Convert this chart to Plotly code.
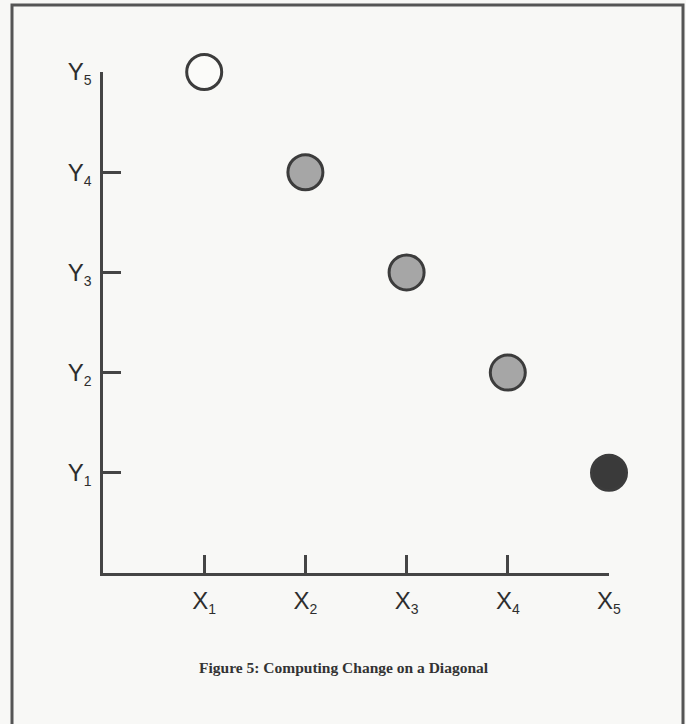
import plotly.graph_objects as go

# Data
x_positions = [1, 2, 3, 4, 5]
y_positions = [5, 4, 3, 2, 1]
point_fills = ["#fbfbf9", "#a6a6a6", "#a6a6a6", "#a6a6a6", "#3a3a3a"]
x_tick_vals = [1, 2, 3, 4, 5]
x_tick_subs = ["1", "2", "3", "4", "5"]
y_tick_vals = [1, 2, 3, 4, 5]
y_tick_subs = ["1", "2", "3", "4", "5"]
caption = "Figure 5: Computing Change on a Diagonal"

def sub_label(letter, s):
    return f"{letter}<sub><span style='font-size:14px'>{s}</span></sub>"

x_tick_text = [sub_label("X", s) for s in x_tick_subs]
y_tick_text = [sub_label("Y", s) for s in y_tick_subs]

W, H = 686, 724
L, R, T, B = 103, 77, 72, 151
pw, ph = W - L - R, H - T - B

def px_to_paper_x(px):
    return (px - L) / pw

def px_to_paper_y(py):
    return (H - B - py) / ph

axis_color = "#454545"
bg = "#f8f8f6"

fig = go.Figure()
fig.add_trace(go.Scatter(
    x=x_positions, y=y_positions, mode="markers",
    marker=dict(size=35, color=point_fills, line=dict(color="#3c3c3c", width=3)),
    showlegend=False, hoverinfo="skip", cliponaxis=False,
))

axis_common = dict(
    showgrid=False, zeroline=False, showline=True, linecolor=axis_color, linewidth=2.5,
    ticks="inside", ticklen=18, tickwidth=2.5, tickcolor=axis_color,
    tickfont=dict(family="Liberation Sans, Arial, sans-serif", size=24, color="#2e2e2e"),
    range=[0, 5], fixedrange=True,
)

fig.update_xaxes(tickmode="array", tickvals=x_tick_vals, ticktext=x_tick_text,
                 ticklabelstandoff=4, **axis_common)
fig.update_yaxes(tickmode="array", tickvals=y_tick_vals, ticktext=y_tick_text,
                 ticklabelstandoff=4, **axis_common)

fig.add_annotation(
    text="<b>" + caption + "</b>", xref="paper", yref="paper",
    x=px_to_paper_x(344), y=px_to_paper_y(667), xanchor="center", yanchor="middle",
    showarrow=False, font=dict(family="Liberation Serif, Times New Roman, serif", size=15.5, color="#333333"),
)

# Frame border (open at the bottom, like the cropped scan)
fig.add_shape(
    type="rect", xref="paper", yref="paper",
    x0=px_to_paper_x(12), x1=px_to_paper_x(683),
    y0=px_to_paper_y(760), y1=px_to_paper_y(5),
    line=dict(color="#555555", width=3), fillcolor="rgba(0,0,0,0)", layer="below",
)

fig.update_layout(
    width=W, height=H, margin=dict(l=L, r=R, t=T, b=B, pad=0),
    paper_bgcolor=bg, plot_bgcolor=bg, showlegend=False,
)

fig.write_html("out.html", config={"displayModeBar": False},
               post_script="document.body.style.margin='0';document.body.style.overflow='hidden';")
